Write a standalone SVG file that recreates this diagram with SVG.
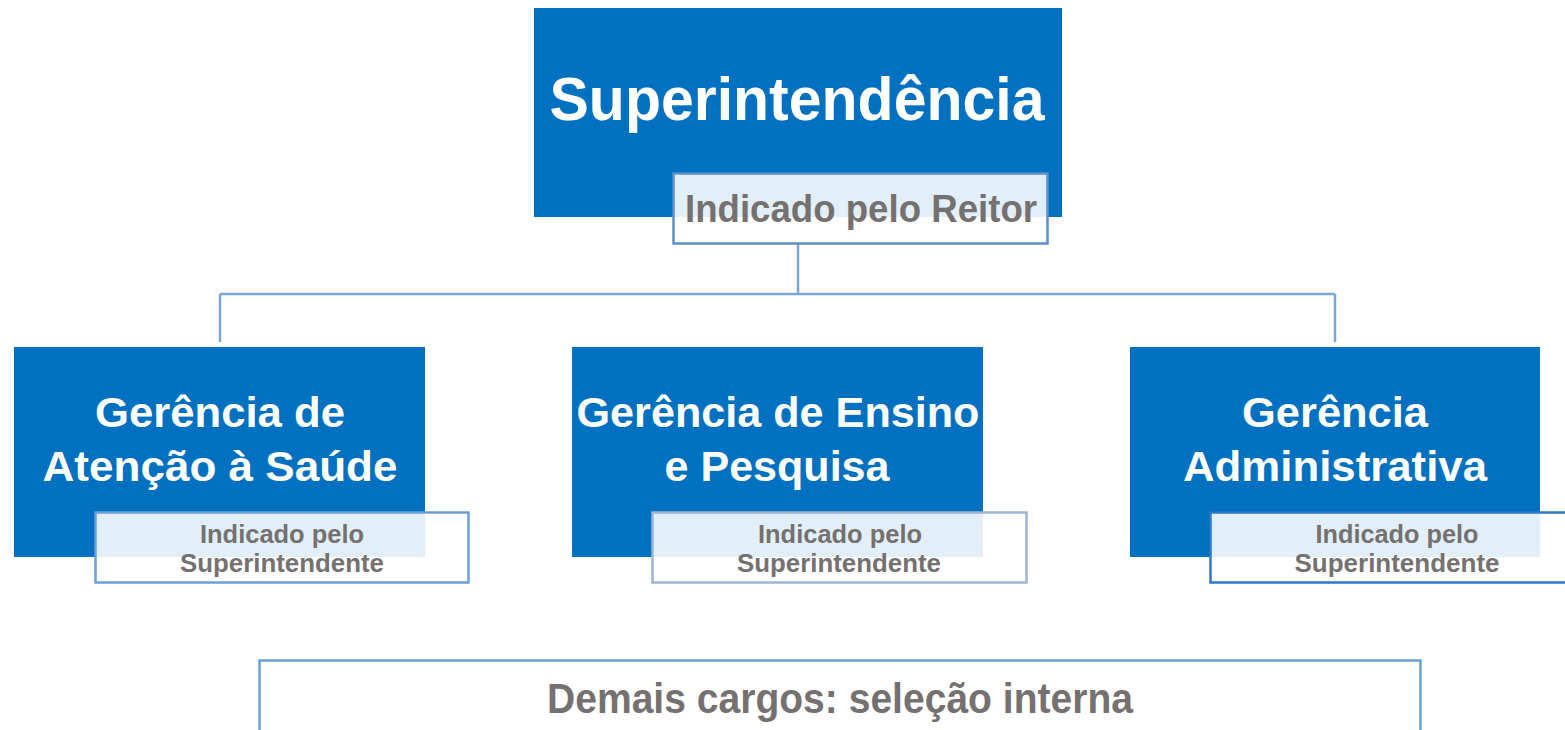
<svg xmlns="http://www.w3.org/2000/svg" width="1565" height="730" viewBox="0 0 1565 730">
<style>
.box{fill:#0070C0}
.lbl{fill:#FFFFFF;fill-opacity:0.89;stroke-width:2.5}
.wt{fill:#FFFFFF;font-family:"Liberation Sans",Arial,sans-serif;font-weight:bold;text-anchor:middle}
.gt{fill:#767171;font-family:"Liberation Sans",Arial,sans-serif;font-weight:bold;text-anchor:middle}
.con{stroke:#7BA6D8;stroke-width:2.5;fill:none}
</style>
<rect width="1565" height="730" fill="#FFFFFF"/>
<g id="connectors">
<path class="con" d="M798 244 V294 M220 294 H1335 M220 294 V342 M1335 294 V342"/>
</g>
<g id="superintendencia">
<rect class="box" x="534" y="8" width="528" height="209"/>
<text class="wt" x="797" y="120" font-size="62" textLength="495" lengthAdjust="spacingAndGlyphs">Superintendência</text>
<rect class="lbl" x="673.5" y="173.5" width="374" height="70" stroke="#5B8FC9"/>
<text class="gt" x="861" y="222" font-size="38" textLength="352" lengthAdjust="spacingAndGlyphs">Indicado pelo Reitor</text>
</g>
<g id="gerencia-saude">
<rect class="box" x="14" y="347" width="411" height="210"/>
<text class="wt" x="220" y="427" font-size="42" textLength="250" lengthAdjust="spacingAndGlyphs">Gerência de</text>
<text class="wt" x="220" y="481" font-size="42" textLength="355" lengthAdjust="spacingAndGlyphs">Atenção à Saúde</text>
<rect class="lbl" x="95.5" y="512.5" width="373" height="70" stroke="#6A9FD9"/>
<text class="gt" x="282" y="543" font-size="26" textLength="164" lengthAdjust="spacingAndGlyphs">Indicado pelo</text>
<text class="gt" x="282" y="572" font-size="26" textLength="204" lengthAdjust="spacingAndGlyphs">Superintendente</text>
</g>
<g id="gerencia-ensino">
<rect class="box" x="572" y="347" width="411" height="210"/>
<text class="wt" x="778" y="427" font-size="42" textLength="403" lengthAdjust="spacingAndGlyphs">Gerência de Ensino</text>
<text class="wt" x="777" y="481" font-size="42" textLength="225" lengthAdjust="spacingAndGlyphs">e Pesquisa</text>
<rect class="lbl" x="652.5" y="512.5" width="374" height="70" stroke="#9DB5D3"/>
<text class="gt" x="840" y="543" font-size="26" textLength="164" lengthAdjust="spacingAndGlyphs">Indicado pelo</text>
<text class="gt" x="839" y="572" font-size="26" textLength="204" lengthAdjust="spacingAndGlyphs">Superintendente</text>
</g>
<g id="gerencia-administrativa">
<rect class="box" x="1130" y="347" width="410" height="210"/>
<text class="wt" x="1335" y="427" font-size="42" textLength="186" lengthAdjust="spacingAndGlyphs">Gerência</text>
<text class="wt" x="1335" y="481" font-size="42" textLength="304" lengthAdjust="spacingAndGlyphs">Administrativa</text>
<rect class="lbl" x="1210.5" y="512.5" width="360" height="70" stroke="#2E78C8"/>
<text class="gt" x="1397" y="543" font-size="26" textLength="163" lengthAdjust="spacingAndGlyphs">Indicado pelo</text>
<text class="gt" x="1397" y="572" font-size="26" textLength="205" lengthAdjust="spacingAndGlyphs">Superintendente</text>
</g>
<g id="demais-cargos">
<rect x="259.5" y="660.5" width="1161" height="80" fill="#FFFFFF" stroke="#6A9FD9" stroke-width="2.5"/>
<text class="gt" x="840" y="713" font-size="42" textLength="586" lengthAdjust="spacingAndGlyphs">Demais cargos: seleção interna</text>
</g>
</svg>
